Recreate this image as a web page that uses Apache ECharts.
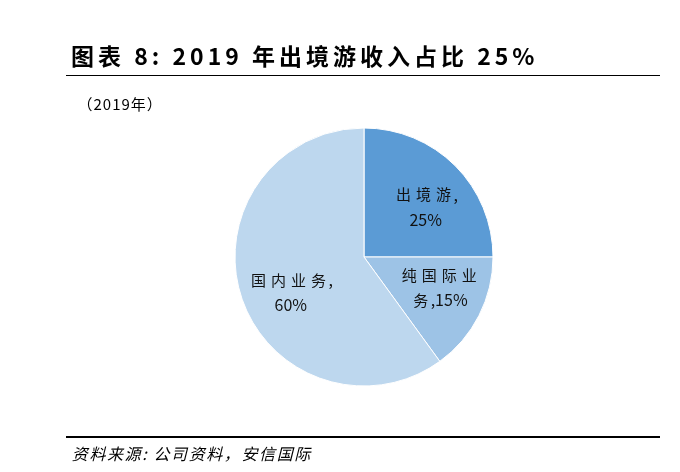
<!DOCTYPE html>
<html>
<head>
<meta charset="utf-8">
<script src="https://cdn.jsdelivr.net/npm/echarts@6/dist/echarts.min.js"></script>
<style>
  html, body { margin: 0; padding: 0; background: #fff; }
  #chart { width: 680px; height: 472px; }
</style>
</head>
<body>
<div id="chart"></div>
<script>
// data
const categories = ['出境游', '纯国际业务', '国内业务']
const shares = [25, 15, 60]
const labelTexts = ['出境游,\n25%', '纯国际业\n务,15%', '国内业务,\n60%']
const sliceColors = ['#5B9BD5', '#9DC3E6', '#BDD7EE']
const labelOffsets = [[14, -2], [15, 0], [-9, 15]]

const titleText = '图表 8: 2019 年出境游收入占比 25%'
const subText = '（2019年）'
const sourceText = '资料来源: 公司资料，安信国际'

const cjk = '"Noto Sans CJK SC", "Noto Sans", sans-serif'

// wrap every char in a rich token, CJK chars get some letter spacing
const isCjk = c => /[\u3000-\u9fff\uff00-\uffef]/.test(c)
const spaced = (str, key, latinKey) => str.split('\n')
  .map(line => line.split('').map(c => `{${isCjk(c) || !latinKey ? key : latinKey}|${c}}`).join(''))
  .join('\n')

const chart = echarts.init(document.getElementById('chart'), null, { renderer: 'canvas' })

const option = {
  backgroundColor: '#fff',
  animation: false,
  title: [
    {
      text: spaced(titleText, 't'),
      left: 64,
      top: 40,
      textStyle: {
        rich: {
          t: { fontFamily: cjk, fontSize: 23, fontWeight: 'bold', color: '#000', padding: [0, 2] },
        },
      },
    },
    {
      text: spaced(subText, 's'),
      left: 72,
      top: 92,
      textStyle: {
        fontWeight: 'normal',
        rich: {
          s: { fontFamily: cjk, fontSize: 15, fontWeight: 'normal', color: '#000', padding: [0, 0.5] },
        },
      },
    },
    {
      text: spaced(sourceText, 'f'),
      left: 66,
      top: 441,
      textStyle: {
        fontWeight: 'normal',
        rich: {
          f: { fontFamily: cjk, fontSize: 16, fontWeight: 'normal', fontStyle: 'italic', color: '#000', padding: [0, 0.8] },
        },
      },
    },
  ],
  graphic: [
    { type: 'line', shape: { x1: 66, y1: 75.5, x2: 660, y2: 75.5 }, style: { stroke: '#000', lineWidth: 1 } },
    { type: 'line', shape: { x1: 66, y1: 437, x2: 660, y2: 437 }, style: { stroke: '#000', lineWidth: 2 } },
  ],
  series: [
    {
      type: 'pie',
      center: [364, 257],
      radius: 129,
      startAngle: 90,
      clockwise: true,
      itemStyle: { borderColor: '#fff', borderWidth: 1 },
      label: {
        show: true,
        position: 'inside',
        align: 'center',
        rich: {
          l: { fontFamily: cjk, fontSize: 15, lineHeight: 25, color: '#111', padding: [0, 2.5] },
          n: { fontFamily: cjk, fontSize: 16, lineHeight: 25, color: '#111' },
        },
      },
      labelLine: { show: false },
      emphasis: { disabled: true },
      data: categories.map((name, i) => ({
        name: name,
        value: shares[i],
        itemStyle: { color: sliceColors[i] },
        label: { formatter: spaced(labelTexts[i], 'l', 'n'), offset: labelOffsets[i] },
      })),
    },
  ],
}

chart.setOption(option)
</script>
</body>
</html>
